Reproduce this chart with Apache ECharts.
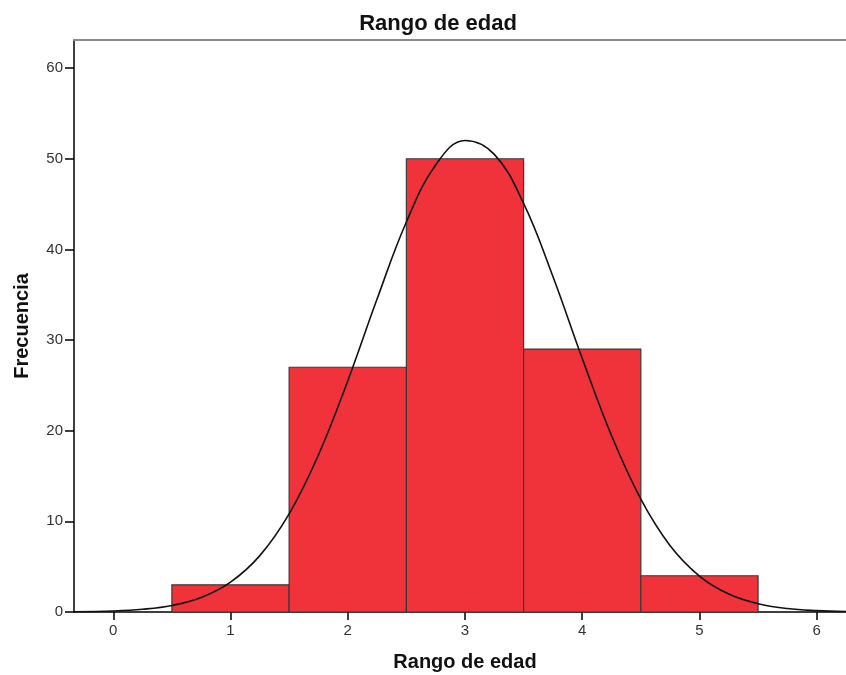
<!DOCTYPE html>
<html>
<head>
<meta charset="utf-8">
<script src="https://cdn.jsdelivr.net/npm/echarts@6/dist/echarts.min.js"></script>
<style>html,body{margin:0;padding:0;background:#fff}#c{width:846px;height:675px}</style>
</head>
<body>
<div id="c"></div>
<script>
// Histogram bins (Rango de edad)
var binStarts = [0.5, 1.5, 2.5, 3.5, 4.5];
var binEnds   = [1.5, 2.5, 3.5, 4.5, 5.5];
var counts    = [3, 27, 50, 29, 4];
// Normal curve
var curveX = [-0.33, 0, 0.25, 0.5, 0.75, 1, 1.25, 1.5, 1.75, 2, 2.25, 2.5, 2.75, 3, 3.25, 3.5, 3.75, 4, 4.25, 4.5, 4.75, 5, 5.25, 5.5, 5.75, 6, 6.25];
var curveY = [0.03, 0.11, 0.30, 0.72, 1.60, 3.29, 6.22, 10.82, 17.32, 25.49, 34.52, 43.02, 49.32, 52.02, 50.48, 45.07, 37.02, 27.98, 19.46, 12.45, 7.32, 3.97, 1.98, 0.91, 0.38, 0.15, 0.05];
var xTicks = [0, 1, 2, 3, 4, 5, 6];
var yTicks = [0, 10, 20, 30, 40, 50, 60];

var barData = binStarts.map(function (s, i) { return [s, binEnds[i], counts[i]]; });
var lineData = curveX.map(function (x, i) { return [x, curveY[i]]; });

var font = 'Liberation Sans, Arial, sans-serif';
var chart = echarts.init(document.getElementById('c'), null, {renderer: 'canvas'});
chart.setOption({
  animation: false,
  backgroundColor: '#fff',
  title: {
    text: 'Rango de edad', left: 433, top: 8, textAlign: 'center',
    textStyle: {fontFamily: font, fontSize: 22, fontWeight: 'bold', color: '#111'}
  },
  grid: {left: 74, top: 40, right: 0, bottom: 63, containLabel: false, outerBoundsMode: 'none'},
  xAxis: [{
    type: 'value', min: -0.335, max: 6.25, position: 'bottom',
    name: 'Rango de edad', nameLocation: 'middle', nameGap: 40,
    nameTextStyle: {fontFamily: font, fontSize: 20, fontWeight: 'bold', color: '#111', padding: [0, 0, 0, 10]},
    axisLine: {show: true, onZero: false, lineStyle: {color: '#000', width: 1.5}},
    axisTick: {show: true, length: 8, inside: false, customValues: xTicks, lineStyle: {color: '#000', width: 1.5}},
    axisLabel: {customValues: xTicks, margin: 11, fontFamily: font, fontSize: 15, color: '#333'},
    splitLine: {show: false}
  }, {
    type: 'value', min: -0.335, max: 6.25, position: 'top',
    axisLine: {show: true, onZero: false, lineStyle: {color: '#8a8a8a', width: 2}},
    axisTick: {show: false}, axisLabel: {show: false}, splitLine: {show: false}
  }],
  yAxis: {
    type: 'value', min: 0, max: 63.1,
    name: 'Frecuencia', nameLocation: 'middle', nameGap: 42, nameRotate: 90,
    nameTextStyle: {fontFamily: font, fontSize: 20, fontWeight: 'bold', color: '#111'},
    axisLine: {show: true, onZero: false, lineStyle: {color: '#000', width: 1.5}},
    axisTick: {show: true, length: 9, customValues: yTicks, lineStyle: {color: '#000', width: 1.5}},
    axisLabel: {customValues: yTicks, margin: 11, fontFamily: font, fontSize: 15, color: '#333'},
    splitLine: {show: false}
  },
  series: [{
    type: 'custom',
    xAxisIndex: 0,
    data: barData,
    renderItem: function (params, api) {
      var p0 = api.coord([api.value(0), api.value(2)]);
      var p1 = api.coord([api.value(1), 0]);
      return {
        type: 'rect',
        shape: {x: p0[0], y: p0[1], width: p1[0] - p0[0], height: p1[1] - p0[1]},
        style: {fill: '#F0333B', stroke: '#3a3a3a', lineWidth: 1.2}
      };
    },
    z: 2
  }, {
    type: 'line',
    xAxisIndex: 0,
    data: lineData,
    smooth: 0.4,
    showSymbol: false,
    lineStyle: {color: '#111', width: 1.6},
    z: 3
  }]
});
</script>
</body>
</html>
